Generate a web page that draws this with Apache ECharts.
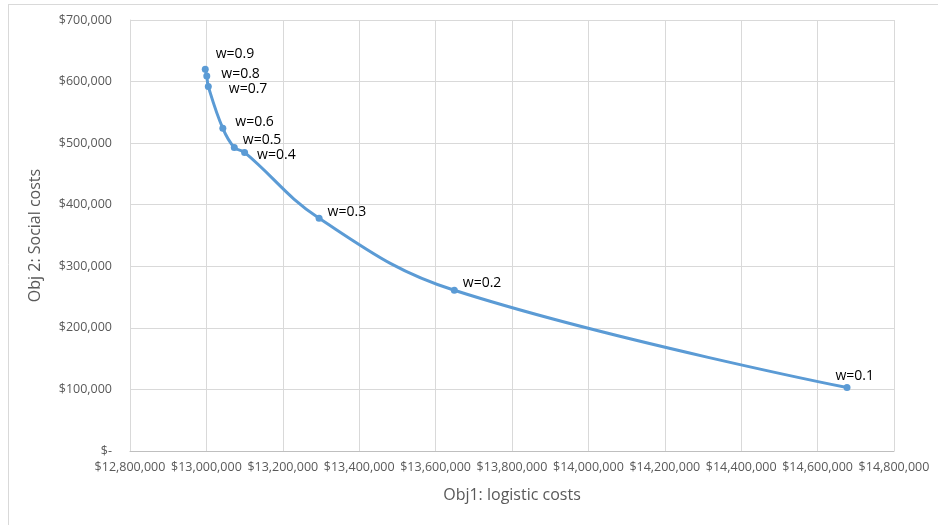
<!DOCTYPE html>
<html>
<head>
<meta charset="utf-8">
<script src="https://cdn.jsdelivr.net/npm/echarts@6/dist/echarts.min.js"></script>
<style>
  html, body { margin: 0; padding: 0; background: #ffffff; }
  #chart { width: 938px; height: 525px; }
</style>
</head>
<body>
<div id="chart"></div>
<script>
// Pareto front: logistic cost vs social cost for each weight w
const weights = ['w=0.9', 'w=0.8', 'w=0.7', 'w=0.6', 'w=0.5', 'w=0.4', 'w=0.3', 'w=0.2', 'w=0.1'];
const logisticCosts = [12997000, 13001000, 13005000, 13043000, 13073000, 13100000, 13295000, 13649000, 14677000];
const socialCosts = [620000, 609000, 592000, 524000, 493000, 485000, 378000, 261000, 103000];
// label offsets (dx, dy) so the crowded labels don't overlap
const labelOffsets = [[2, -15], [6, -2], [12, 3], [4, -6], [0, -7], [4, 3], [0, -6], [0, -7], [-20, -12]];

const xTicks = { min: 12800000, max: 14800000, step: 200000 };
const yTicks = { min: 0, max: 700000, step: 100000 };

const fmtMoney = v => v === 0 ? '$-' : '$' + v.toLocaleString('en-US');

const points = logisticCosts.map((x, i) => ({
  value: [x, socialCosts[i]],
  name: weights[i],
  label: { offset: labelOffsets[i] }
}));

const FONT = "'Liberation Sans Narrow', 'Open Sans', sans-serif";
const chart = echarts.init(document.getElementById('chart'));
chart.setOption({
  animation: false,
  textStyle: { fontFamily: FONT },
  grid: { left: 130, right: 44, top: 20, bottom: 74 },
  graphic: [
    { type: 'line', shape: { x1: 8, y1: 4.5, x2: 938, y2: 4.5 }, style: { stroke: '#d9d9d9', lineWidth: 1 } },
    { type: 'line', shape: { x1: 8.5, y1: 4, x2: 8.5, y2: 525 }, style: { stroke: '#d9d9d9', lineWidth: 1 } }
  ],
  xAxis: {
    type: 'value',
    min: xTicks.min, max: xTicks.max, interval: xTicks.step,
    name: 'Obj1: logistic costs',
    nameLocation: 'middle', nameGap: 36,
    nameTextStyle: { fontSize: 16, color: '#595959', fontFamily: FONT },
    axisLine: { show: true, lineStyle: { color: '#bfbfbf' } },
    axisTick: { show: false },
    axisLabel: { formatter: fmtMoney, fontSize: 12.5, color: '#595959', margin: 10, fontFamily: FONT },
    splitLine: { show: true, lineStyle: { color: '#d9d9d9' } }
  },
  yAxis: {
    type: 'value',
    min: yTicks.min, max: yTicks.max, interval: yTicks.step,
    name: 'Obj 2: Social costs',
    nameLocation: 'middle', nameGap: 87,
    nameTextStyle: { fontSize: 16, color: '#595959', fontFamily: FONT },
    axisLine: { show: true, lineStyle: { color: '#d9d9d9' } },
    axisTick: { show: false },
    axisLabel: { formatter: fmtMoney, fontSize: 12.5, color: '#595959', margin: 18, fontFamily: FONT },
    splitLine: { show: true, lineStyle: { color: '#d9d9d9' } }
  },
  series: [{
    type: 'line',
    data: points,
    smooth: 0.4,
    symbol: 'circle',
    symbolSize: 7,
    lineStyle: { color: '#5b9bd5', width: 3 },
    itemStyle: { color: '#5b9bd5' },
    label: {
      show: true,
      position: 'right',
      formatter: p => p.name,
      fontSize: 14,
      color: '#000000',
      fontFamily: FONT
    }
  }]
});
</script>
</body>
</html>
